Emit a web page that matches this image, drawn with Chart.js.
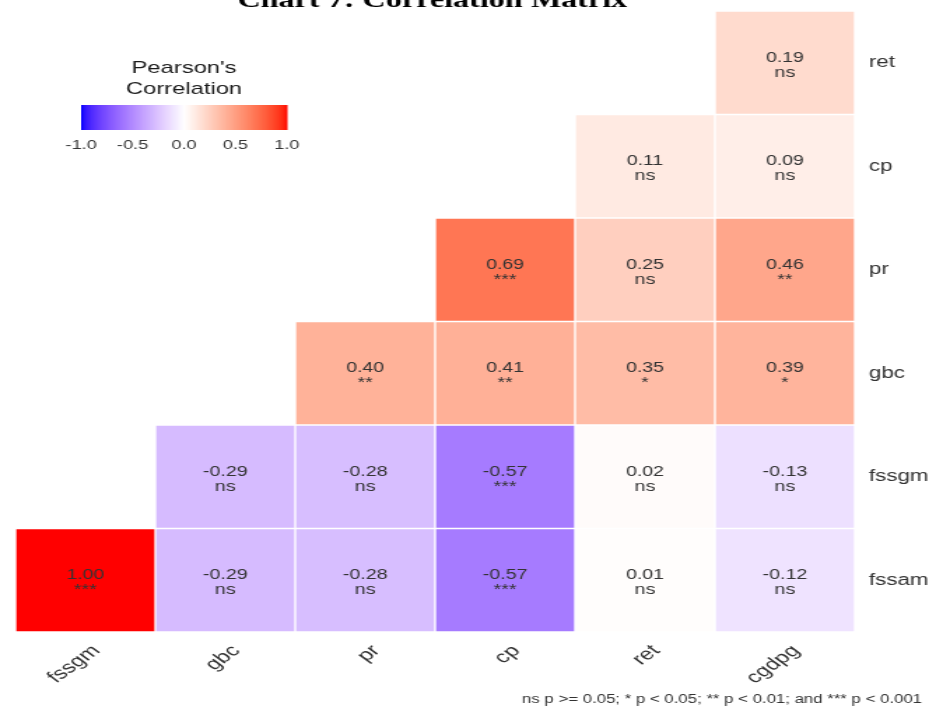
<!DOCTYPE html>
<html>
<head>
<meta charset="utf-8">
<script src="https://cdn.jsdelivr.net/npm/chart.js@4.4.1/dist/chart.umd.min.js"></script>
<style>
  html, body { margin: 0; padding: 0; background: #fff; overflow: hidden; }
  #wrap { width: 936px; height: 713px; position: relative; overflow: hidden; }
  /* the reference picture is stretched sideways, so is this one */
  #corrChart { position: absolute; left: 0; top: 0; transform: scaleX(1.3991); transform-origin: 0 0; }
</style>
</head>
<body>
<div id="wrap"><canvas id="corrChart" width="669" height="713"></canvas></div>
<script>
// columns left to right, rows bottom to top
const cols = ['fssgm', 'gbc', 'pr', 'cp', 'ret', 'cgdpg'];
const rows = ['fssam', 'fssgm', 'gbc', 'pr', 'cp', 'ret'];

// correlation values per row (null = empty cell)
const r_fssam = [1.00, -0.29, -0.28, -0.57, 0.01, -0.12];
const r_fssgm = [null, -0.29, -0.28, -0.57, 0.02, -0.13];
const r_gbc   = [null, null, 0.40, 0.41, 0.35, 0.39];
const r_pr    = [null, null, null, 0.69, 0.25, 0.46];
const r_cp    = [null, null, null, null, 0.11, 0.09];
const r_ret   = [null, null, null, null, null, 0.19];

// significance marks per row
const s_fssam = ['***', 'ns', 'ns', '***', 'ns', 'ns'];
const s_fssgm = [null, 'ns', 'ns', '***', 'ns', 'ns'];
const s_gbc   = [null, null, '**', '**', '*', '*'];
const s_pr    = [null, null, null, '***', 'ns', '**'];
const s_cp    = [null, null, null, null, 'ns', 'ns'];
const s_ret   = [null, null, null, null, null, 'ns'];

const legendTicks = [-1.0, -0.5, 0.0, 0.5, 1.0];
const titleText = 'Chart 7: Correlation Matrix';
const noteText = 'ns p >= 0.05; * p < 0.05; ** p < 0.01; and *** p < 0.001';

const values = [r_fssam, r_fssgm, r_gbc, r_pr, r_cp, r_ret];
const sigs = [s_fssam, s_fssgm, s_gbc, s_pr, s_cp, s_ret];

const FONT = '"Liberation Sans", Arial, sans-serif';

// blue - white - red, interpolated in Lab like ggplot's gradient2
function toLab(r, g, b) {
  const f = c => { c /= 255; return c > 0.04045 ? Math.pow((c + 0.055) / 1.055, 2.4) : c / 12.92; };
  let R = f(r), G = f(g), B = f(b);
  let X = (R * 0.4124 + G * 0.3576 + B * 0.1805) / 0.95047;
  let Y = (R * 0.2126 + G * 0.7152 + B * 0.0722);
  let Z = (R * 0.0193 + G * 0.1192 + B * 0.9505) / 1.08883;
  const h = t => t > 0.008856 ? Math.cbrt(t) : 7.787 * t + 16 / 116;
  X = h(X); Y = h(Y); Z = h(Z);
  return [116 * Y - 16, 500 * (X - Y), 200 * (Y - Z)];
}
function fromLab(L, a, b) {
  let Y = (L + 16) / 116, X = a / 500 + Y, Z = Y - b / 200;
  const h = t => t * t * t > 0.008856 ? t * t * t : (t - 16 / 116) / 7.787;
  X = h(X) * 0.95047; Y = h(Y); Z = h(Z) * 1.08883;
  let R = X * 3.2406 + Y * -1.5372 + Z * -0.4986;
  let G = X * -0.9689 + Y * 1.8758 + Z * 0.0415;
  let B = X * 0.0557 + Y * -0.2040 + Z * 1.0570;
  const g = c => { c = c > 0.0031308 ? 1.055 * Math.pow(c, 1 / 2.4) - 0.055 : 12.92 * c; return Math.round(Math.max(0, Math.min(1, c)) * 255); };
  return 'rgb(' + g(R) + ',' + g(G) + ',' + g(B) + ')';
}
const labWhite = toLab(255, 255, 255), labRed = toLab(255, 0, 0), labBlue = toLab(0, 0, 255);
function corrColor(v) {
  const end = v >= 0 ? labRed : labBlue;
  const t = Math.min(1, Math.abs(v));
  return fromLab(
    labWhite[0] + (end[0] - labWhite[0]) * t,
    labWhite[1] + (end[1] - labWhite[1]) * t,
    labWhite[2] + (end[2] - labWhite[2]) * t
  );
}

const datasets = rows.map((name, i) => ({
  label: name,
  data: values[i].map(v => v === null ? null : [i, i + 1]),
  backgroundColor: values[i].map(v => v === null ? 'rgba(0,0,0,0)' : corrColor(v)),
  borderColor: 'rgba(255,255,255,0.6)',
  borderWidth: 1,
  borderSkipped: false,
  grouped: false,
  barPercentage: 1,
  categoryPercentage: 1
}));

const extras = {
  id: 'extras',
  afterDatasetsDraw(chart) {
    const ctx = chart.ctx;
    ctx.save();
    // cell labels
    ctx.fillStyle = '#333';
    ctx.textAlign = 'center';
    ctx.textBaseline = 'middle';
    ctx.font = '14px ' + FONT;
    chart.data.datasets.forEach((ds, i) => {
      const meta = chart.getDatasetMeta(i);
      meta.data.forEach((el, j) => {
        const v = values[i][j];
        if (v === null) return;
        const cy = (el.y + el.base) / 2;
        ctx.fillText(v.toFixed(2), el.x, cy - 5);
        ctx.fillText(sigs[i][j], el.x, cy + 10);
      });
    });

    // title, cut off at the top
    ctx.fillStyle = '#000';
    ctx.font = 'bold 23px "Liberation Serif", "Times New Roman", serif';
    ctx.textBaseline = 'alphabetic';
    ctx.fillText(titleText, 309, 7);

    // colour legend
    const lx0 = 58, lx1 = 205, ly = 105, lh = 25;
    for (let x = lx0; x < lx1; x += 0.5) {
      const v = -1 + 2 * (x - lx0) / (lx1 - lx0);
      ctx.fillStyle = corrColor(v);
      ctx.fillRect(x, ly, 1, lh);
    }
    ctx.textBaseline = 'middle';
    ctx.fillStyle = '#1a1a1a';
    ctx.font = '17px ' + FONT;
    ctx.fillText("Pearson's", 131.5, 68);
    ctx.fillText('Correlation', 131.5, 89);
    ctx.fillStyle = '#333';
    ctx.font = '13px ' + FONT;
    legendTicks.forEach(t => {
      const x = lx0 + (t + 1) / 2 * (lx1 - lx0);
      ctx.fillText(t.toFixed(1), x, 145);
    });

    // footnote
    ctx.textAlign = 'right';
    ctx.fillStyle = '#333';
    ctx.font = '12px ' + FONT;
    ctx.fillText(noteText, 659, 700);
    ctx.restore();
  }
};

const ctx = document.getElementById('corrChart').getContext('2d');
const myChart = new Chart(ctx, {
  type: 'bar',
  data: { labels: cols, datasets: datasets },
  options: {
    responsive: false,
    animation: false,
    devicePixelRatio: 1,
    layout: { padding: { left: 11, top: 11, right: 0, bottom: 0 } },
    plugins: { legend: { display: false }, tooltip: { enabled: false } },
    scales: {
      x: {
        type: 'category',
        grid: { display: false, drawTicks: false },
        border: { display: false },
        ticks: {
          color: '#333',
          font: { size: 17, family: FONT },
          minRotation: 45,
          maxRotation: 45,
          padding: 9,
          labelOffset: 8
        },
        afterFit(scale) {
          scale.height = 81;
          scale.paddingLeft = 0;
          scale.paddingRight = 0;
        }
      },
      y: {
        type: 'linear',
        position: 'right',
        min: 0,
        max: 6,
        grid: { display: false, drawTicks: false },
        border: { display: false },
        afterBuildTicks(scale) {
          scale.ticks = rows.map((_, i) => ({ value: i + 0.5 }));
        },
        ticks: {
          color: '#333',
          font: { size: 16, family: FONT },
          padding: 10,
          callback: v => rows[Math.floor(v)]
        },
        afterFit(scale) {
          scale.width = 58;
          scale.paddingTop = 0;
          scale.paddingBottom = 0;
        }
      }
    }
  },
  plugins: [extras]
});
</script>
</body>
</html>
